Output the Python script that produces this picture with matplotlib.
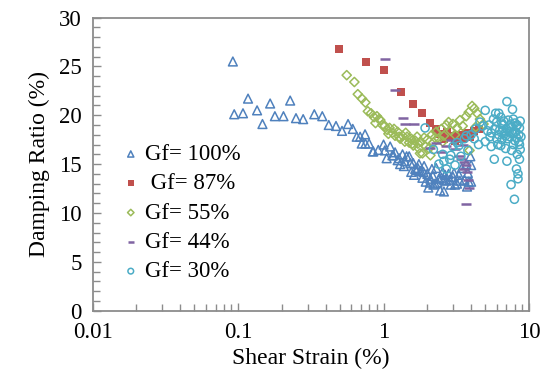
"""
Damping ratio vs shear strain for five Gf levels (log x axis).
Writes out.png at 543x389.
"""

import matplotlib
matplotlib.use("Agg")
import matplotlib.pyplot as plt
from matplotlib.ticker import MultipleLocator, LogLocator, FixedLocator

plt.rcParams["font.family"] = ["Liberation Serif", "DejaVu Serif"]

# ---- data ------------------------------------------------------------------
# Gf = 100 %
strain_100 = [0.092, 0.094, 0.108, 0.117, 0.135, 0.147, 0.166, 0.179, 0.205, 0.228,
              0.25, 0.28, 0.334, 0.379, 0.42, 0.471, 0.518, 0.57, 0.614, 0.654,
              0.69, 0.708, 0.746, 0.75, 0.795, 0.843, 0.85, 0.92, 1.0, 1.02, 1.05,
              1.11, 1.15, 1.17, 1.2, 1.25, 1.3, 1.35, 1.4, 1.44, 1.5, 1.53, 1.55,
              1.6, 1.65, 1.69, 1.75, 1.8, 1.85, 1.9, 1.95, 2.0, 2.03, 2.1, 2.15,
              2.2, 2.26, 2.3, 2.35, 2.45, 2.5, 2.55, 2.6, 2.6, 2.7, 2.8, 2.9, 3.0,
              3.1, 3.2, 3.3, 3.45, 3.6, 3.7, 3.75, 3.8, 3.85, 3.95, 4.0, 4.0,
              1.28, 1.38, 1.62, 1.72, 1.88, 2.08, 2.18, 2.4, 2.65, 2.85, 3.05, 3.35]
damp_100 = [25.5, 20.1, 20.2, 21.7, 20.5, 19.1, 21.2, 19.9, 19.9, 21.5,
            19.7, 19.6, 20.1, 19.9, 19.0, 18.9, 18.4, 19.1, 18.6, 17.8,
            17.8, 17.1, 18.05, 17.1, 17.1, 16.3, 16.3, 16.45, 17.0, 16.4, 15.6,
            16.8, 15.9, 15.9, 16.2, 15.4, 15.0, 16.0, 15.3, 15.8, 15.8, 15.1, 14.2,
            15.1, 14.5, 14.4, 15.0, 14.3, 13.6, 14.8, 13.2, 14.0, 12.6, 13.5, 14.5,
            12.9, 13.0, 14.6, 13.1, 12.3, 13.6, 14.2, 12.2, 13.4, 13.3, 14.0, 12.9, 13.7,
            12.9, 13.0, 13.9, 14.6, 13.4, 15.0, 12.7, 14.1, 13.2, 15.8, 14.9, 13.2,
            15.6, 14.8, 13.9, 14.6, 14.2, 13.1, 13.8, 13.5, 13.9, 13.4, 14.1, 13.3]

# Gf = 87 %
strain_87 = [0.497, 0.755, 1.01, 1.32, 1.59, 1.85, 2.09, 2.3, 2.45, 2.6,
             2.75, 2.9, 3.1, 3.3, 3.5, 3.7, 3.9, 4.2, 4.5]
damp_87 = [26.75, 25.45, 24.6, 22.4, 21.2, 20.2, 19.25, 18.6, 18.1, 17.6,
           18.3, 17.9, 17.4, 18.0, 17.6, 18.2, 17.8, 18.4, 18.6]

# Gf = 55 %
strain_55 = [0.558, 0.63, 0.665, 0.71, 0.75, 0.78, 0.82, 0.86, 0.9, 0.95,
             0.98, 1.02, 1.06, 1.1, 1.15, 1.2, 1.25, 1.3, 1.35, 1.4,
             1.45, 1.5, 1.55, 1.6, 1.65, 1.7, 1.75, 1.78, 1.8, 1.85, 1.9,
             1.95, 2.0, 2.1, 2.15, 2.2, 2.3, 2.4, 2.5, 2.6, 2.7, 2.8, 2.9,
             3.0, 3.2, 3.35, 3.5, 3.7, 3.85, 3.9, 4.06, 4.2, 4.3, 4.4, 4.6, 4.87,
             0.88, 0.93, 1.08, 1.18, 1.28, 1.42, 1.58, 1.72, 2.05, 2.25, 2.55, 3.1]
damp_55 = [24.1, 23.4, 22.15, 21.7, 21.3, 20.4, 20.2, 19.8, 19.9, 19.5,
           19.0, 18.9, 18.5, 18.7, 18.2, 17.9, 18.3, 17.6, 17.9, 17.3,
           17.8, 17.2, 17.6, 16.9, 17.4, 17.8, 16.6, 16.1, 17.3, 16.1, 17.7,
           16.8, 17.5, 15.9, 18.0, 17.2, 18.3, 17.6, 18.6, 17.9, 19.0, 19.3, 18.4,
           19.1, 18.7, 19.5, 18.9, 19.9, 20.3, 16.4, 20.95, 20.7, 18.8, 20.2, 19.6, 19.1,
           19.2, 19.6, 18.1, 18.6, 17.8, 18.2, 17.1, 17.1, 16.6, 17.7, 17.3, 18.0]

# Gf = 44 %
strain_44 = [1.03, 1.20, 1.35, 1.40, 1.62, 2.09, 2.3, 2.5, 2.7, 2.9,
             3.1, 3.3, 3.4, 3.5, 3.55, 3.6, 3.7, 3.75, 3.8, 3.85, 3.70]
damp_44 = [25.8, 22.6, 19.7, 19.1, 19.1, 16.6, 17.2, 16.2, 16.9, 17.5,
           16.5, 15.8, 15.5, 17.0, 14.5, 15.2, 14.9, 14.2, 13.4, 12.6, 10.9]

# Gf = 30 %
strain_30 = [1.93, 2.2, 2.4, 2.55, 2.7, 2.85, 3.0, 3.2, 3.4, 3.6,
             3.8, 4.0, 4.3, 4.5, 4.6, 5.0, 5.0, 5.3, 5.5, 5.5,
             5.77, 5.9, 6.0, 6.1, 6.2, 6.3, 6.5, 6.6, 6.8, 6.9,
             7.05, 7.05, 7.2, 7.4, 7.53, 7.6, 7.7, 7.8, 7.94, 8.0,
             8.1, 8.2, 8.3, 8.4, 8.4, 8.5, 8.6, 8.6, 8.7, 8.7,
             8.8, 5.2, 5.7, 6.4, 7.0, 7.5, 8.2, 8.5, 6.7, 7.9,
             5.4, 5.8, 6.2, 6.6, 7.1, 7.3, 7.7, 8.0, 8.3, 8.6,
             6.0, 6.5, 6.9, 7.3, 7.8, 8.2, 4.8, 4.2, 3.3, 2.9,
             3.7, 2.6, 3.1, 6.4, 7.6]
damp_30 = [18.7, 16.5, 15.0, 16.0, 14.5, 15.5, 16.8, 17.2, 15.8, 17.6,
           16.4, 18.0, 18.6, 17.0, 19.3, 20.5, 17.3, 19.0, 18.2, 16.8,
           15.5, 20.2, 19.3, 17.0, 20.2, 18.5, 17.5, 19.0, 18.1, 16.6,
           21.4, 15.3, 19.5, 17.8, 12.9, 18.8, 20.6, 17.0, 11.4, 19.2,
           18.3, 14.5, 16.0, 14.0, 13.5, 17.3, 15.5, 18.7, 19.4, 16.5,
           17.8, 18.4, 19.6, 19.8, 18.6, 19.1, 18.9, 18.0, 19.4, 18.2,
           17.8, 18.6, 18.0, 18.4, 17.6, 18.9, 18.1, 17.4, 19.0, 17.0,
           17.6, 19.2, 17.9, 18.3, 19.6, 17.7, 18.9, 17.6, 16.9, 15.9,
           17.9, 15.3, 14.9, 16.9, 16.4]

x_ticks = [0.01, 0.1, 1, 10]
x_tick_labels = ["0.01", "0.1", "1", "10"]
y_ticks = [0, 5, 10, 15, 20, 25, 30]

# ---- figure -----------------------------------------------------------------
fig = plt.figure(figsize=(5.43, 3.89), dpi=100)
ax = fig.add_axes([0.1707, 0.2013, 0.8035, 0.7537])

ax.scatter(strain_100, damp_100, marker="^", s=40, facecolors="none",
           edgecolors="#4F81BD", linewidths=1.1, label="Gf= 100%", zorder=2)
ax.scatter(strain_87, damp_87, marker="s", s=34, color="#C0504D",
           linewidths=0, label=" Gf= 87%", zorder=2)
ax.scatter(strain_55, damp_55, marker="D", s=22, facecolors="none",
           edgecolors="#9BBB59", linewidths=1.1, label="Gf= 55%", zorder=3)
ax.scatter(strain_44, damp_44, marker="_", s=50, color="#8064A2",
           linewidths=1.8, label="Gf= 44%", zorder=3)
ax.scatter(strain_30, damp_30, marker="o", s=34, facecolors="none",
           edgecolors="#4BACC6", linewidths=1.1, label="Gf= 30%", zorder=4)

ax.set_xscale("log")
ax.set_xlim(0.01, 10)
ax.set_ylim(0, 30)
ax.xaxis.set_major_locator(FixedLocator(x_ticks))
ax.set_xticklabels(x_tick_labels)
ax.xaxis.set_minor_locator(LogLocator(base=10, subs=range(2, 10)))
ax.yaxis.set_major_locator(FixedLocator(y_ticks))
ax.yaxis.set_minor_locator(MultipleLocator(1))

spine_col = "#8C8C8C"
for sp in ax.spines.values():
    sp.set_color(spine_col)
    sp.set_linewidth(1.3)
ax.tick_params(which="both", direction="in", color=spine_col, labelsize=16.5,
               top=False, right=False, width=1.0)
ax.tick_params(which="major", length=6, pad=8)
ax.tick_params(which="minor", length=5)

ax.set_xlabel("Shear Strain (%)", fontsize=17, labelpad=4)
ax.set_ylabel("Damping Ratio (%)", fontsize=17, labelpad=6)

ax.legend(loc="upper left", bbox_to_anchor=(0.04, 0.6), frameon=False,
          fontsize=16.5, handletextpad=0.1, labelspacing=0.36,
          handlelength=1.0, borderaxespad=0, markerscale=0.7)

fig.savefig("out.png", dpi=100)
